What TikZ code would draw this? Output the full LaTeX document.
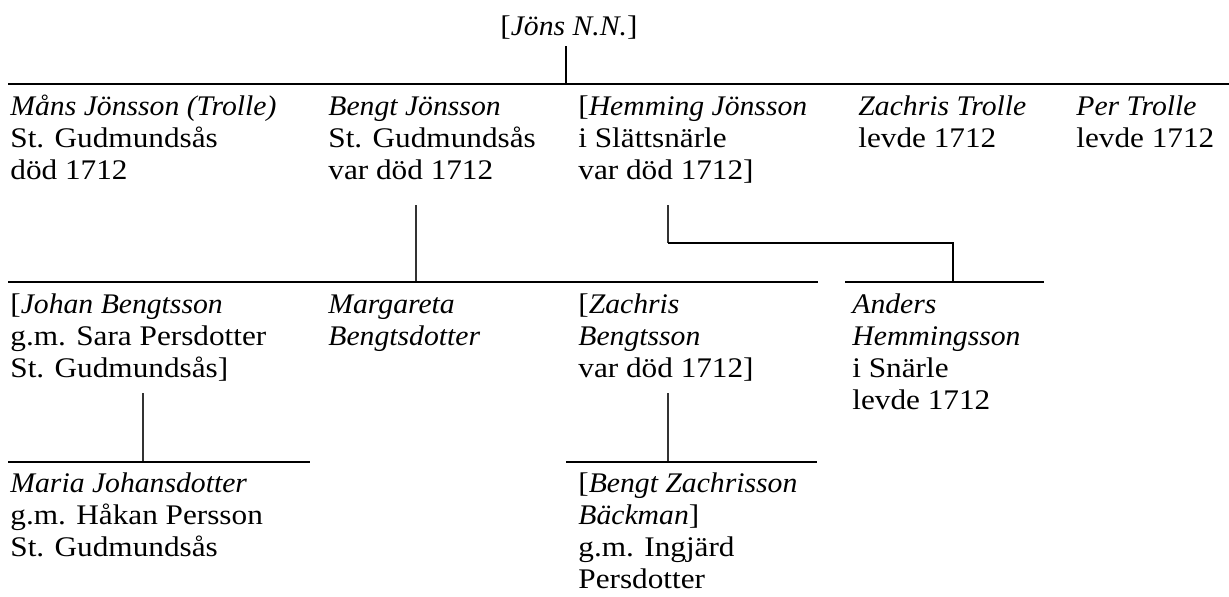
\documentclass[tikz,border=0pt]{standalone}
\usepackage{fontspec}
\setmainfont{Liberation Serif}[UprightFeatures={FakeStretch=1.1},ItalicFeatures={FakeStretch=1.045}]
\newcommand\personfont{\fontsize{14.2pt}{16pt}\selectfont}
\newcommand\mystrut{\rule{0pt}{11pt}}
\begin{document}
\begin{tikzpicture}[x=0.5pt,y=-0.5pt,
  thickline/.style={line width=1pt},
  thinline/.style={line width=0.6pt, black!80},
  person/.style={anchor=north west, inner sep=0pt, align=left, font=\personfont}]
\useasboundingbox (0,0) rectangle (1229,596);
% generation 0
\node[person, anchor=base west] (jons) at (500,35) {[\textit{Jöns N.N.}]};
% generation 1
\node[person] (mans) at (10,93) {\mystrut\textit{Måns Jönsson (Trolle)}\\St. Gudmundsås\\död 1712};
\node[person] (bengt) at (328,93) {\mystrut\textit{Bengt Jönsson}\\St. Gudmundsås\\var död 1712};
\node[person] (hemming) at (578,93) {\mystrut[\textit{Hemming Jönsson}\\i Slättsnärle\\var död 1712]};
\node[person] (zachrisT) at (858,93) {\mystrut\textit{Zachris Trolle}\\levde 1712};
\node[person] (per) at (1076,93) {\mystrut\textit{Per Trolle}\\levde 1712};
% generation 2
\node[person] (johan) at (10,291) {\mystrut[\textit{Johan Bengtsson}\\g.m. Sara Persdotter\\St. Gudmundsås]};
\node[person] (margareta) at (328,291) {\mystrut\textit{Margareta}\\\textit{Bengtsdotter}};
\node[person] (zachrisB) at (578,291) {\mystrut[\textit{Zachris}\\\textit{Bengtsson}\\var död 1712]};
\node[person] (anders) at (852,291) {\mystrut\textit{Anders}\\\textit{Hemmingsson}\\i Snärle\\levde 1712};
% generation 3
\node[person] (maria) at (10,470) {\mystrut\textit{Maria Johansdotter}\\g.m. Håkan Persson\\St. Gudmundsås};
\node[person] (bengtZ) at (578,470) {\mystrut[\textit{Bengt Zachrisson}\\\textit{Bäckman}]\\g.m. Ingjärd\\Persdotter};
% connector coordinates
\coordinate (jonsdrop) at (566,46);
\coordinate (gen1join) at (566,84);
\coordinate (gen1L) at (8,84);
\coordinate (gen1R) at (1229,84);
\coordinate (bengtdrop) at (416,205);
\coordinate (gen2ajoin) at (416,282);
\coordinate (gen2aL) at (8,282);
\coordinate (gen2aR) at (818,282);
\coordinate (hemdrop) at (668,205);
\coordinate (hemturn) at (668,243);
\coordinate (hemturnB) at (953,243);
\coordinate (gen2bjoin) at (953,282);
\coordinate (gen2bL) at (845,282);
\coordinate (gen2bR) at (1044,282);
\coordinate (johandrop) at (143,393);
\coordinate (gen3ajoin) at (143,462);
\coordinate (gen3aL) at (8,462);
\coordinate (gen3aR) at (310,462);
\coordinate (zachdrop) at (668,393);
\coordinate (gen3bjoin) at (668,462);
\coordinate (gen3bL) at (566,462);
\coordinate (gen3bR) at (817,462);
% connectors
\draw[thickline] (jonsdrop) -- (gen1join);
\draw[thickline] (gen1L) -- (gen1R);
\draw[thinline] (bengtdrop) -- (gen2ajoin);
\draw[thickline] (gen2aL) -- (gen2aR);
\draw[thinline] (hemdrop) -- (hemturn);
\draw[thickline] (hemturn) -- (hemturnB) -- (gen2bjoin);
\draw[thickline] (gen2bL) -- (gen2bR);
\draw[thinline] (johandrop) -- (gen3ajoin);
\draw[thickline] (gen3aL) -- (gen3aR);
\draw[thinline] (zachdrop) -- (gen3bjoin);
\draw[thickline] (gen3bL) -- (gen3bR);
\end{tikzpicture}
\end{document}
